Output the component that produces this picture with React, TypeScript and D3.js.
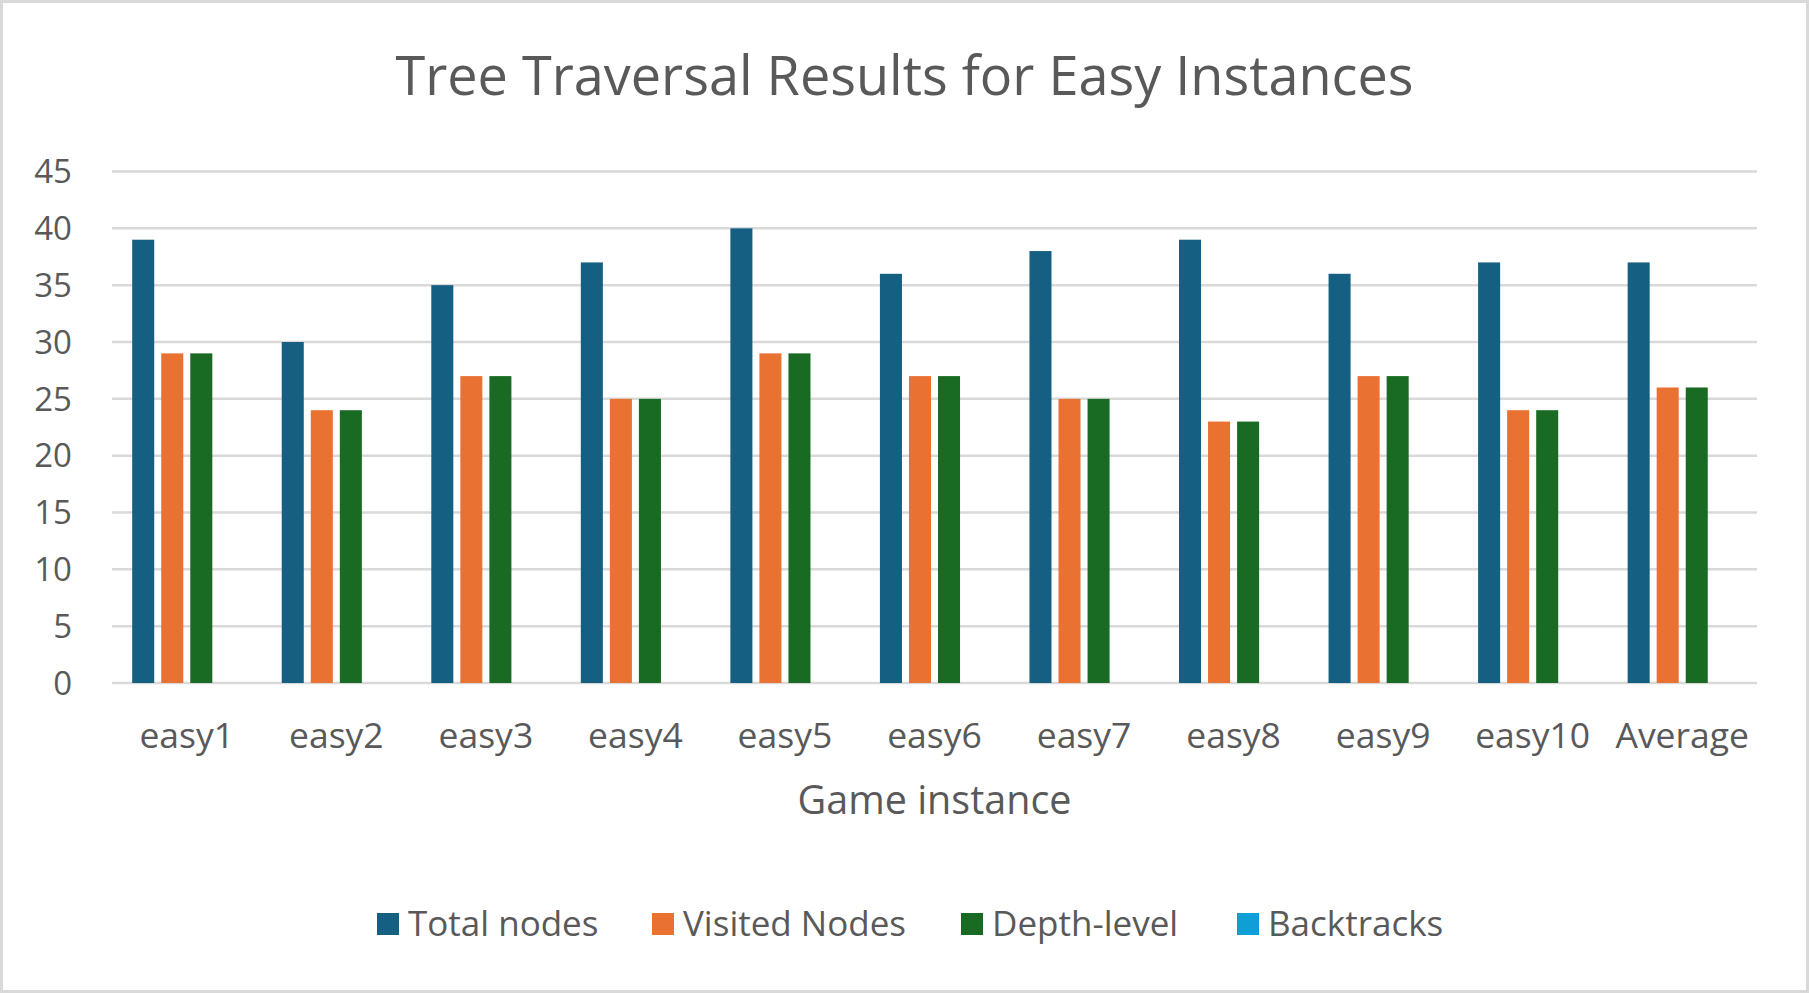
import React from "react";
import * as d3 from "d3";

const categories = ["easy1", "easy2", "easy3", "easy4", "easy5", "easy6", "easy7", "easy8", "easy9", "easy10", "Average"];
const seriesNames = ["Total nodes", "Visited Nodes", "Depth-level", "Backtracks"];
const totalNodes = [39, 30, 35, 37, 40, 36, 38, 39, 36, 37, 37];
const visitedNodes = [29, 24, 27, 25, 29, 27, 25, 23, 27, 24, 26];
const depthLevel = [29, 24, 27, 25, 29, 27, 25, 23, 27, 24, 26];
const backtracks = [0, 0, 0, 0, 0, 0, 0, 0, 0, 0, 0];
const yTicks = [0, 5, 10, 15, 20, 25, 30, 35, 40, 45];
const colors = ["#156082", "#E97132", "#196B24", "#0F9ED5"];

const W = 1809;
const H = 993;
const FONT = "'Open Sans', sans-serif";
const TXT = "#595959";

export default function App() {
  const seriesValues = [totalNodes, visitedNodes, depthLevel, backtracks];
  const left = 112, right = 1757, top = 171.5, bottom = 683;
  const y = d3.scaleLinear().domain([0, 45]).range([bottom, top]);
  const x0 = d3.scaleBand<string>().domain(categories).range([left, right]).padding(0);
  const bw = x0.bandwidth();
  const groupW = bw * 0.73;
  const x1 = d3
    .scaleBand<string>()
    .domain(seriesNames)
    .range([(bw - groupW) / 2, (bw + groupW) / 2])
    .paddingInner(7 / 29)
    .paddingOuter(0);

  const legendX = [377, 652, 961, 1237];

  return (
    <svg width={W} height={H} style={{ position: "absolute", left: 0, top: 0, background: "#fff" }} fontFamily={FONT}>
      <rect x={1.5} y={1.5} width={W - 3} height={H - 3} fill="#fff" stroke="#d9d9d9" strokeWidth={3} />
      <text x={W / 2} y={95} textAnchor="middle" fontSize={54} fill={TXT}>
        Tree Traversal Results for Easy Instances
      </text>
      {yTicks.map((t) => (
        <g key={t}>
          <line x1={left} x2={right} y1={y(t)} y2={y(t)} stroke="#d9d9d9" strokeWidth={2.5} />
          <text x={72} y={y(t) + 11.8} textAnchor="end" fontSize={33} fill={TXT}>
            {t}
          </text>
        </g>
      ))}
      {seriesNames.map((s, si) =>
        categories.map((c, ci) => {
          const v = seriesValues[si][ci];
          const bx = (x0(c) as number) + (x1(s) as number);
          return (
            <rect
              key={s + c}
              x={bx}
              y={y(v)}
              width={x1.bandwidth()}
              height={bottom - y(v)}
              fill={colors[si]}
            />
          );
        })
      )}
      {categories.map((c) => (
        <text key={c} x={(x0(c) as number) + bw / 2} y={748} textAnchor="middle" fontSize={35.5} fill={TXT}>
          {c}
        </text>
      ))}
      <text x={(left + right) / 2} y={814} textAnchor="middle" fontSize={39.5} fill={TXT}>
        Game instance
      </text>
      {seriesNames.map((s, i) => (
        <g key={s}>
          <rect x={legendX[i]} y={913} width={22} height={22} fill={colors[i]} />
          <text x={legendX[i] + 31} y={936} fontSize={35} fill={TXT}>
            {s}
          </text>
        </g>
      ))}
    </svg>
  );
}
